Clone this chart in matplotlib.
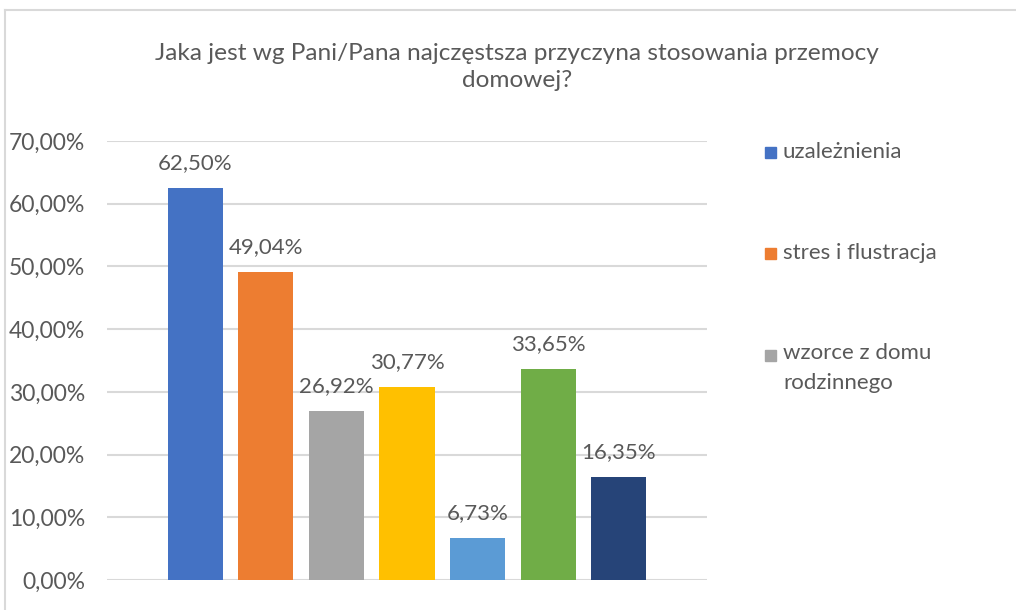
import matplotlib.pyplot as plt
from matplotlib.patches import Rectangle

plt.rcParams['font.family'] = ['Lato', 'DejaVu Sans']

values = [62.50, 49.04, 26.92, 30.77, 6.73, 33.65, 16.35]
colors = ['#4472C4', '#ED7D31', '#A5A5A5', '#FFC000', '#5B9BD5', '#70AD47', '#264478']
legend_names = ['uzależnienia', 'stres i flustracja', 'wzorce z domu\nrodzinnego']
title = 'Jaka jest wg Pani/Pana najczęstsza przyczyna stosowania przemocy\ndomowej?'
grey = '#595959'

fig = plt.figure(figsize=(10.16, 6.1), dpi=100)
ax = fig.add_axes([107 / 1016, 30 / 610, 600 / 1016, 439 / 610])

x = range(len(values))
ax.bar(x, [v / 100 for v in values], width=0.78, color=colors, zorder=3)
for xi, v in zip(x, values):
    ax.text(xi, v / 100 + 0.024, f'{v:.2f}%'.replace('.', ','), ha='center', va='bottom',
            fontsize=16, color=grey)

ax.set_xlim(-1.25, 7.25)
ax.set_ylim(0, 0.7)
yt = [i / 10 for i in range(8)]
ax.set_yticks(yt)
ax.set_yticklabels([f'{t * 100:.2f}%'.replace('.', ',') for t in yt], fontsize=16.5, color=grey)
ax.set_xticks([])
ax.tick_params(axis='y', length=0, pad=15.5)
ax.grid(axis='y', color='#D9D9D9', linewidth=1.5, zorder=0)
for s in ax.spines.values():
    s.set_visible(False)

fig.text(517 / 1016, 1 - 67 / 610, title, ha='center', va='center', fontsize=17.6,
         color=grey, linespacing=1.4)

# legend (only first three entries visible)
leg_y = [152, 253, 355]
for name, c, y in zip(legend_names, colors, leg_y):
    fig.patches.append(Rectangle((765 / 1016, 1 - (y + 6) / 610), 11 / 1016, 11 / 610,
                                 transform=fig.transFigure, color=c))
    if '\n' in name:
        fig.text(783 / 1016, 1 - (y - 12) / 610, name, ha='left', va='top',
                 fontsize=16, color=grey, linespacing=1.6)
    else:
        fig.text(783 / 1016, 1 - y / 610, name, ha='left', va='center',
                 fontsize=16, color=grey)

# outer chart border (top and left)
fig.add_artist(plt.Line2D([5 / 1016, 1], [1 - 10 / 610] * 2, color='#D9D9D9', lw=1.5,
                          transform=fig.transFigure))
fig.add_artist(plt.Line2D([5 / 1016] * 2, [0, 1 - 10 / 610], color='#D9D9D9', lw=1.5,
                          transform=fig.transFigure))

fig.savefig('out.png', dpi=100)
